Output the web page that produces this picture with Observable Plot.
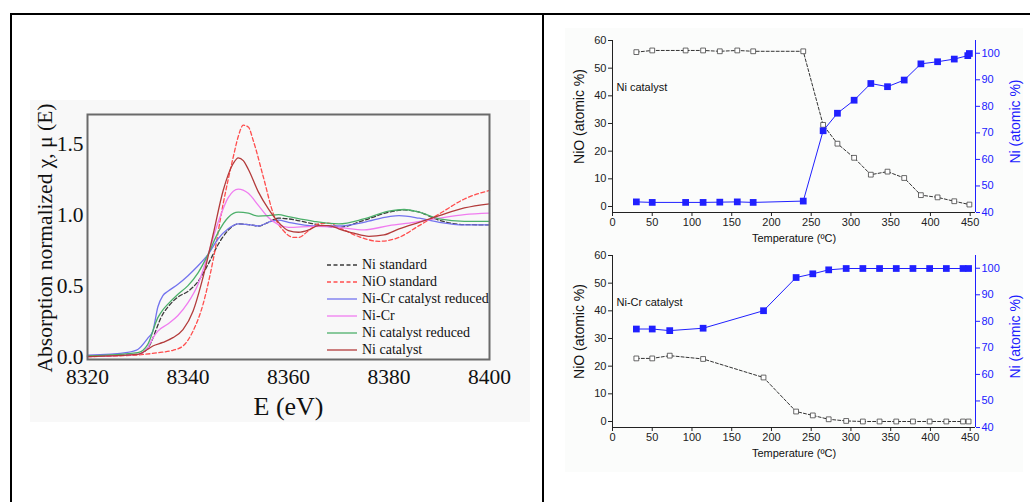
<!DOCTYPE html>
<html><head><meta charset="utf-8">
<script src="https://cdn.jsdelivr.net/npm/d3@7"></script>
<script src="https://cdn.jsdelivr.net/npm/@observablehq/plot@0.6"></script>
<style>
body{margin:0;background:#fff;width:1030px;height:502px;overflow:hidden;position:relative}
.abs{position:absolute}
#legend{position:absolute;left:327px;top:256px;font-family:"Liberation Serif","Times New Roman",serif;font-size:14px;color:#111}
#legend .row{height:17px;display:flex;align-items:center;white-space:nowrap}
#legend svg{margin-right:5px}
svg{overflow:visible}
</style></head><body>
<div class="abs" style="left:10px;top:13px;width:1020px;height:2px;background:#000"></div>
<div class="abs" style="left:10px;top:13px;width:2px;height:489px;background:#000"></div>
<div class="abs" style="left:542px;top:13px;width:2px;height:489px;background:#000"></div>
<div class="abs" style="left:565px;top:28px;width:458px;height:444px;background:#fbfcfb"></div>
<div id="xanes" class="abs" style="left:30px;top:100px"></div>
<div id="legend"></div>
<div id="p1" class="abs" style="left:565px;top:30px"></div>
<div id="p2" class="abs" style="left:565px;top:245px"></div>
<script>
// ---------- XANES data (left panel) ----------
const xanesSeries = ["Ni standard","NiO standard","Ni-Cr catalyst reduced","Ni-Cr","Ni catalyst reduced","Ni catalyst"];
const xanesColors = ["#3a3a3a","#ff4d4d","#7373ee","#f07cf0","#4caf6a","#b33b3b"];
const xanesDash   = ["4,2.5","4,2.5",null,null,null,null];

const niStdE = [8320,8330,8332,8335,8336,8338,8340,8342,8344,8346,8348,8350,8352,8354,8356,8358,8360,8365,8370,8375,8380,8383,8386,8390,8395,8400];
const niStdV = [0.005,0.016,0.06,0.30,0.35,0.42,0.46,0.53,0.65,0.79,0.89,0.935,0.93,0.92,0.946,0.975,0.97,0.935,0.91,0.96,1.017,1.033,1.017,0.96,0.93,0.928];

const nioStdE = [8320,8330,8334,8337,8339,8341,8343,8345,8347,8349,8350,8351,8352,8353,8355,8357,8359,8361,8362,8364,8366,8368,8370,8374,8378,8382,8386,8390,8395,8400];
const nioStdV = [0.0,0.012,0.028,0.045,0.075,0.18,0.37,0.68,1.076,1.405,1.55,1.63,1.617,1.52,1.264,1.005,0.887,0.84,0.84,0.887,0.935,0.94,0.91,0.845,0.812,0.84,0.923,1.005,1.11,1.17];

const niCrRedE = [8320,8328,8330,8332,8333,8334,8335,8336,8338,8340,8342,8344,8346,8348,8350,8352,8354,8356,8358,8360,8365,8370,8375,8380,8382,8386,8390,8395,8400];
const niCrRedV = [0.01,0.03,0.05,0.13,0.18,0.35,0.43,0.46,0.51,0.57,0.64,0.72,0.83,0.90,0.935,0.93,0.92,0.946,0.962,0.946,0.92,0.92,0.946,0.986,0.993,0.975,0.946,0.928,0.928];

const niCrE = [8320,8330,8332,8333,8334,8336,8338,8340,8342,8344,8346,8348,8350,8352,8354,8356,8358,8360,8365,8370,8375,8380,8385,8390,8395,8400];
const niCrV = [0.0,0.016,0.064,0.13,0.18,0.23,0.29,0.38,0.51,0.72,0.946,1.12,1.18,1.15,1.065,0.98,0.93,0.91,0.918,0.91,0.892,0.923,0.946,0.975,1.0,1.01];

const niRedE = [8320,8330,8332,8334,8335,8336,8338,8340,8342,8344,8346,8348,8350,8352,8354,8356,8358,8360,8365,8370,8375,8380,8383,8386,8390,8395,8400];
const niRedV = [0.005,0.028,0.087,0.275,0.33,0.37,0.44,0.50,0.59,0.72,0.875,0.98,1.017,1.01,0.99,0.993,1.0,0.986,0.953,0.935,0.97,1.024,1.036,1.017,0.97,0.953,0.953];

const niCatE = [8320,8330,8332,8333,8335,8337,8339,8341,8343,8345,8347,8349,8350,8351,8352,8354,8356,8358,8360,8362,8364,8366,8368,8370,8373,8376,8379,8382,8386,8390,8395,8400];
const niCatV = [0.0,0.016,0.052,0.075,0.10,0.134,0.19,0.32,0.56,0.86,1.17,1.36,1.40,1.38,1.32,1.16,1.04,0.946,0.887,0.876,0.892,0.923,0.923,0.90,0.869,0.847,0.857,0.90,0.946,0.993,1.047,1.076];

const xanesE = [niStdE,nioStdE,niCrRedE,niCrE,niRedE,niCatE];
const xanesV = [niStdV,nioStdV,niCrRedV,niCrV,niRedV,niCatV];
const xanesTicksX = [8320,8340,8360,8380,8400];
const xanesTicksY = [0,0.5,1.0,1.5];

// ---------- Right panels ----------
const niCatTempNiO = [30,50,92,114,135,157,177,240,265,283,304,325,346,367,388,409,430,449];
const niCatNiO     = [55.8,56.4,56.4,56.4,56.1,56.4,56.1,56.1,29.5,22.7,17.6,11.5,12.6,10.3,4.1,3.3,1.9,0.7];
const niCatTempNi  = [30,50,92,114,135,157,177,240,265,283,304,325,346,367,388,409,430,447,449];
const niCatNi      = [44.0,43.8,43.8,43.8,43.9,44.0,43.8,44.3,70.8,77.4,82.3,88.6,87.4,89.9,96.0,96.8,97.8,99.1,99.9];

const niCrTemp = [30,50,72,114,190,231,252,272,294,315,336,357,378,399,420,441,448];
const niCrNiO  = [22.8,22.8,23.8,22.6,15.9,3.6,2.2,0.8,0.2,0,0,0,0,0,0,0,0];
const niCrNi   = [77.1,77.1,76.5,77.4,84.0,96.5,97.9,99.4,99.9,99.9,99.9,99.9,99.9,99.9,99.9,99.9,99.9];

const tempTicks = [0,50,100,150,200,250,300,350,400,450];
const nioTicks = [0,10,20,30,40,50,60];
const niTicks = [40,50,60,70,80,90,100];

// ---------- Left panel ----------
const rows = [];
xanesSeries.forEach((s,i)=>xanesE[i].forEach((e,j)=>rows.push({series:s,E:e,v:xanesV[i][j]})));
const serif = "'Liberation Serif','Times New Roman',serif";
const lineMarks = xanesSeries.map((s,i)=>Plot.line(rows.filter(r=>r.series===s),{
  x:"E", y:"v", stroke:xanesColors[i], strokeWidth:1.3, strokeDasharray:xanesDash[i]||undefined, curve:"monotone-x"
}));
const left = Plot.plot({
  width:500, height:322, marginLeft:57, marginRight:41, marginTop:14, marginBottom:63,
  style:{background:"#f8f8f8", fontFamily:serif, fontSize:"21px", color:"#111", overflow:"visible"},
  x:{domain:[8320,8400]},
  y:{domain:[-0.02,1.705]},
  marks:[
    ...lineMarks,
    Plot.axisX({ticks:xanesTicksX, tickSize:0, tickPadding:9, tickFormat:d=>String(d), label:null, fontSize:21.5}),
    Plot.axisY({ticks:xanesTicksY, tickSize:0, tickPadding:4, tickFormat:d3.format(".1f"), label:null, fontSize:21.5}),
    Plot.text(["E (eV)"], {frameAnchor:"bottom", dy:47, fontSize:26, lineAnchor:"middle", textAnchor:"middle", fill:"#111"}),
    Plot.text(["Absorption normalized \u03c7, \u03bc (E)"], {frameAnchor:"left", rotate:-90, dx:-42, dy:1, fontSize:21.5, lineAnchor:"middle", textAnchor:"middle", fill:"#111"}),
    Plot.frame({stroke:"#6a6a6a", strokeWidth:2})
  ]
});
document.getElementById("xanes").appendChild(left);

// legend
const leg = document.getElementById("legend");
xanesSeries.forEach((s,i)=>{
  const row = document.createElement("div"); row.className="row";
  row.innerHTML = `<svg width="30" height="4"><line x1="0" x2="30" y1="2" y2="2" stroke="${xanesColors[i]}" stroke-width="1.3" ${xanesDash[i]?`stroke-dasharray="${xanesDash[i]}"`:""}/></svg><span>${s}</span>`;
  leg.appendChild(row);
});

// ---------- Right panels ----------
const blue = "#2020ff";
const yL = [-2.17, 60], yR = [40, 104.8];
const toLeft = r => yL[0] + (r - yR[0]) * (yL[1]-yL[0])/(yR[1]-yR[0]);
const fromLeft = l => yR[0] + (l - yL[0]) * (yR[1]-yR[0])/(yL[1]-yL[0]);
const xDom = [0, 456.7];
const sans = "'Liberation Sans',Arial,sans-serif";

function panel(label, tNiO, nio, tNi, ni){
  const dNiO = tNiO.map((t,i)=>({t, v:nio[i]}));
  const dNi = tNi.map((t,i)=>({t, v:toLeft(ni[i])}));
  return Plot.plot({
    width:460, height:215, marginLeft:47, marginRight:50, marginTop:10, marginBottom:33,
    style:{background:"transparent", fontFamily:sans, fontSize:"11px", color:"#222", overflow:"visible"},
    x:{domain:xDom},
    y:{domain:yL},
    marks:[
      Plot.ruleY([yL[0]], {stroke:"#222"}),
      Plot.ruleX([xDom[0]], {stroke:"#222"}),
      Plot.ruleX([xDom[1]], {stroke:blue}),
      Plot.axisX({ticks:tempTicks, tickSize:4, tickPadding:2, label:null}),
      Plot.axisY({ticks:nioTicks, tickSize:4, tickPadding:2, label:null}),
      Plot.axisY({anchor:"right", ticks:niTicks.map(toLeft), tickFormat:d=>Math.round(fromLeft(d)), tickSize:4, tickPadding:2, label:null, color:blue}),
      Plot.line(dNiO, {x:"t", y:"v", stroke:"#333", strokeWidth:1, strokeDasharray:"3,2"}),
      Plot.line(dNi, {x:"t", y:"v", stroke:blue, strokeWidth:1}),
      Plot.dot(dNiO, {x:"t", y:"v", symbol:"square", r:2.7, stroke:"#444", fill:"white", strokeWidth:0.8}),
      Plot.dot(dNi, {x:"t", y:"v", symbol:"square", r:3.8, fill:blue, stroke:"none"}),
      Plot.text([label], {frameAnchor:"top-left", dx:4, dy:43, textAnchor:"start", fontSize:11, fill:"#111"}),
      Plot.text(["Temperature (\u00baC)"], {frameAnchor:"bottom", dy:29, fontSize:11, textAnchor:"middle", fill:"#111"}),
      Plot.text(["NiO (atomic %)"], {frameAnchor:"left", rotate:-90, dx:-33, dy:-10, fontSize:14, textAnchor:"middle", fill:"#111"}),
      Plot.text(["Ni (atomic %)"], {frameAnchor:"right", rotate:-90, dx:40, dy:-5, fontSize:14, textAnchor:"middle", fill:blue})
    ]
  });
}
document.getElementById("p1").appendChild(panel("Ni catalyst", niCatTempNiO, niCatNiO, niCatTempNi, niCatNi));
document.getElementById("p2").appendChild(panel("Ni-Cr catalyst", niCrTemp, niCrNiO, niCrTemp, niCrNi));
</script>
</body></html>
